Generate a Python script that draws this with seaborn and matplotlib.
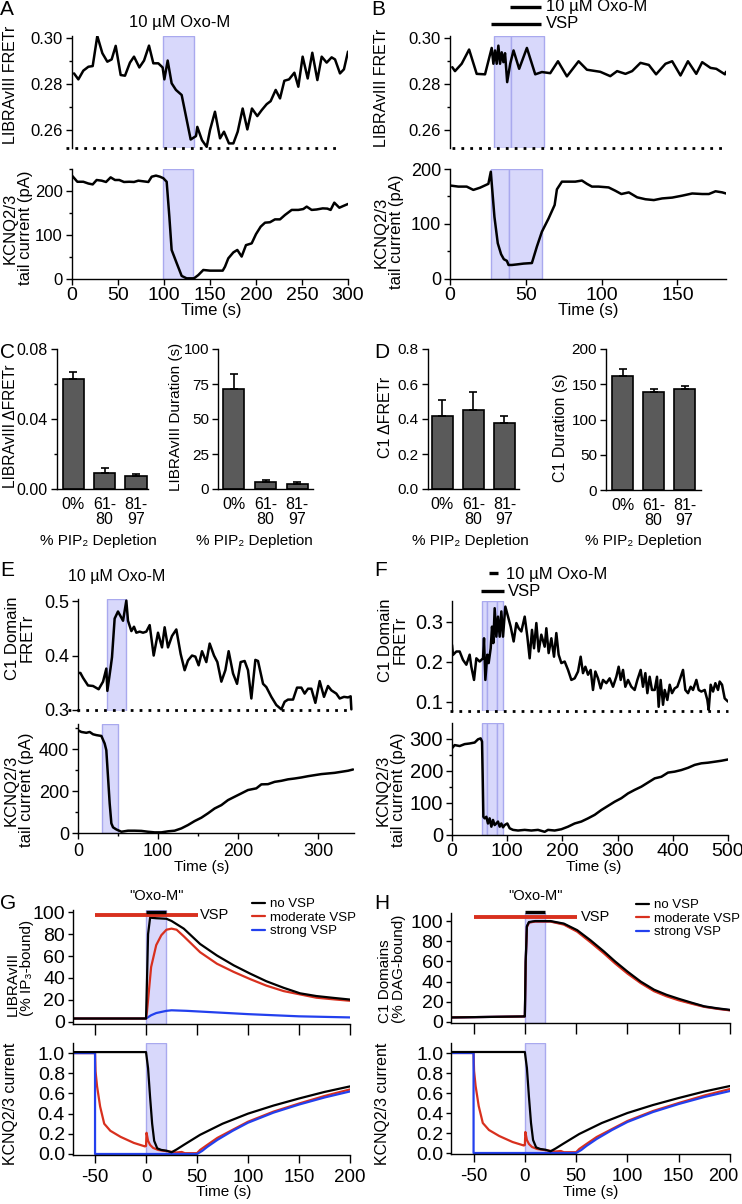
import numpy as np
import pandas as pd
import matplotlib
matplotlib.use("Agg")
import matplotlib.pyplot as plt
import matplotlib.transforms as mtransforms
from matplotlib.ticker import FixedLocator, FormatStrFormatter
import seaborn as sns

sns.set_theme(style="ticks")
plt.rcParams["font.family"] = ["Liberation Sans", "DejaVu Sans"]
plt.rcParams["axes.unicode_minus"] = False
plt.rcParams["axes.linewidth"] = 1.0
plt.rcParams["axes.edgecolor"] = "black"
plt.rcParams["text.color"] = "black"
plt.rcParams["axes.labelcolor"] = "black"
plt.rcParams["xtick.color"] = "black"
plt.rcParams["ytick.color"] = "black"

# === A: LIBRAvIII FRET + KCNQ current, Oxo-M ===
a_fret_t = [2.2, 6.9, 12.3, 17.8, 22.5, 27.5, 33.0, 38.4, 43.1, 47.5, 52.9, 57.6, 63.0, 67.4, 73.2, 78.3,
            83.7, 88.4, 93.8, 98.5, 100.4, 104.0, 108.3, 113.0, 119.2, 129.0, 134.8, 136.2, 141.3, 146.4,
            150.0, 155.4, 160.9, 165.2, 170.6, 175.4, 180.1, 185.5, 190.6, 195.6, 201.4, 206.2, 211.6,
            215.9, 221.4, 226.1, 230.8, 235.9, 241.7, 246.0, 250.7, 256.2, 261.2, 266.7, 271.4, 276.8,
            282.2, 285.9, 291.3, 295.6, 300.0]
a_fret_v = [0.2847, 0.2821, 0.2859, 0.2876, 0.2879, 0.3010, 0.2935, 0.2898, 0.2908, 0.2967, 0.2840,
            0.2837, 0.2894, 0.2920, 0.2873, 0.2903, 0.2968, 0.2891, 0.2891, 0.2873, 0.2821, 0.2903,
            0.2804, 0.2775, 0.2753, 0.2559, 0.2574, 0.2614, 0.2556, 0.2527, 0.2600, 0.2680, 0.2564,
            0.2593, 0.2542, 0.2542, 0.2593, 0.2694, 0.2603, 0.2694, 0.2661, 0.2687, 0.2713, 0.2726,
            0.2775, 0.2738, 0.2815, 0.2821, 0.2850, 0.2789, 0.2920, 0.2825, 0.2937, 0.2818, 0.2920,
            0.2894, 0.2917, 0.2908, 0.2847, 0.2865, 0.2942]
a_kcnq_t = [0, 5.8, 12.3, 17.8, 22.5, 26.8, 32.2, 37.0, 42.0, 46.7, 51.4, 56.5, 62.3, 67.4, 72.1, 77.5,
            83.0, 86.6, 91.3, 95.6, 99.3, 102.9, 105.8, 108.3, 113.8, 119.2, 124.6, 132.6, 137.3, 142.7,
            150.0, 157.2, 163.8, 166.3, 169.9, 175.4, 179.7, 184.4, 189.1, 195.3, 200.0, 205.1, 209.8,
            215.2, 220.6, 226.1, 231.5, 238.8, 246.0, 251.4, 255.1, 260.5, 265.9, 272.5, 277.5, 281.1,
            285.1, 290.6, 294.9, 300.0]
a_kcnq_v = [235, 221, 221, 217, 215, 225, 223.5, 220.5, 231, 225, 225, 220.5, 221, 220.5, 223.5, 222,
            220.5, 232.5, 235, 232.5, 229, 221, 142, 66, 36, 7, 1.5, 1.5, 9, 20.5, 19, 19, 19, 28, 47,
            60.5, 66, 51, 77, 81, 102, 119, 128, 129, 135.5, 135.5, 145.5, 157, 157, 159, 164.5, 157,
            158, 160.5, 160, 157, 173.5, 162, 166, 170.5]
a_fret_shade = [(99, 133)]
a_kcnq_shade = [(98.5, 132)]

# === B: LIBRAvIII FRET + KCNQ current, VSP then Oxo-M ===
b_fret_t = [1.5, 3.3, 7.7, 12.6, 17.6, 23.1, 27.5, 28.6, 29.7, 30.8, 31.9, 33.0, 34.1, 35.2, 36.3, 37.7,
            39.7, 41.9, 45.6, 50.7, 56.2, 60.6, 66.1, 71.2, 77.1, 84.8, 90.3, 99.1, 105.7, 110.2, 115.7,
            120.1, 125.6, 131.1, 135.9, 142.1, 146.5, 152.0, 156.9, 162.4, 166.3, 171.8, 175.6, 181.3, 182.0]
b_fret_v = [0.2874, 0.2857, 0.2889, 0.2951, 0.2845, 0.2843, 0.2958, 0.2889, 0.2947, 0.2889, 0.2968,
            0.2889, 0.2939, 0.2896, 0.2935, 0.2809, 0.2889, 0.2947, 0.2867, 0.2958, 0.2843, 0.2853,
            0.2848, 0.2900, 0.2834, 0.2900, 0.2863, 0.2854, 0.2835, 0.2857, 0.2845, 0.2857, 0.2893,
            0.2884, 0.2843, 0.2889, 0.2900, 0.2838, 0.2900, 0.2845, 0.2896, 0.2871, 0.2867, 0.2843, 0.2854]
b_kcnq_t = [0, 5.5, 11.0, 15.4, 19.8, 25.3, 26.9, 29.3, 31.5, 33.7, 35.5, 37.5, 38.6, 40.8, 44.1, 48.5,
            54.0, 57.3, 60.6, 65.0, 69.0, 70.5, 73.8, 78.2, 82.6, 87.0, 90.3, 93.6, 98.0, 104.6, 109.0,
            113.0, 117.9, 123.4, 128.9, 134.4, 139.9, 146.5, 153.1, 159.7, 166.3, 170.7, 175.1, 179.5, 182.0]
b_kcnq_v = [170, 168, 168, 162, 166, 173, 195, 113, 65, 45, 36, 33, 25.5, 25.5, 26.5, 28, 29, 59, 86,
            110, 134.5, 163, 177, 177, 177, 179, 173, 168, 168, 166.5, 160.5, 154.5, 157.5, 148.5, 145,
            143.5, 146.5, 148, 151.5, 155.5, 154.5, 154.5, 159.5, 157.5, 155.5]
b_fret_shade = [(29.3, 40.3), (40.3, 62.3)]
b_kcnq_shade = [(27.1, 38.6), (38.6, 60.6)]
b_oxo_bar = [39.7, 60.2]
b_vsp_bar = [27.0, 60.0]

# === C / D: summary bars ===
depletion_groups = ["0%", "61-\n80", "81-\n97"]
c_dfret = [0.0627, 0.0093, 0.0076]
c_dfret_err = [0.0043, 0.0025, 0.0011]
c_duration = [71.5, 4.75, 3.8]
c_duration_err = [10.5, 1.65, 1.2]
d_dfret = [0.418, 0.454, 0.378]
d_dfret_err = [0.089, 0.103, 0.040]
d_duration = [161.8, 138.7, 143.4]
d_duration_err = [10.2, 5.2, 3.8]

# === E: C1 domain FRET + KCNQ current, Oxo-M ===
e_fret_t = [0, 3, 6.3, 12.5, 18.8, 25.8, 31.3, 35.4, 36.7, 40.8, 42.5, 45.8, 50.0, 56.3, 60.4, 62.5,
            66.7, 70.0, 72.9, 77.1, 81.3, 85.4, 89.6, 94.6, 100.0, 105.0, 108.3, 112.5, 117.5, 122.9,
            128.3, 133.3, 137.5, 142.5, 146.7, 150.8, 155.0, 160.4, 164.6, 170.0, 174.2, 179.2, 184.2,
            188.3, 193.8, 198.8, 203.3, 208.3, 212.5, 216.7, 221.7, 225.0, 231.3, 235.4, 241.7, 247.9,
            254.2, 258.3, 262.5, 268.8, 273.8, 279.2, 283.3, 287.5, 291.7, 296.7, 302.1, 307.5, 312.5,
            316.7, 322.9, 327.1, 332.5, 337.5, 340.8, 341.7]
e_fret_v = [0.368, 0.368, 0.359, 0.345, 0.344, 0.338, 0.352, 0.376, 0.335, 0.378, 0.397, 0.468, 0.481,
            0.464, 0.501, 0.464, 0.445, 0.453, 0.442, 0.444, 0.442, 0.444, 0.456, 0.400, 0.442, 0.415,
            0.452, 0.415, 0.436, 0.448, 0.403, 0.373, 0.391, 0.400, 0.398, 0.382, 0.408, 0.388, 0.422,
            0.400, 0.388, 0.352, 0.373, 0.408, 0.367, 0.348, 0.388, 0.390, 0.373, 0.321, 0.392, 0.390,
            0.348, 0.342, 0.324, 0.309, 0.301, 0.315, 0.319, 0.319, 0.341, 0.341, 0.330, 0.339, 0.339,
            0.313, 0.353, 0.324, 0.344, 0.336, 0.330, 0.321, 0.324, 0.323, 0.325, 0.301]
e_kcnq_t = [0, 4.2, 10.4, 14.6, 18.8, 22.9, 29.2, 33.3, 35.4, 37.5, 39.6, 41.7, 43.8, 47.9, 54.2, 62.5,
            70.8, 79.2, 87.5, 95.8, 104.2, 112.5, 120.8, 129.2, 137.5, 145.8, 154.2, 162.5, 170.8, 179.2,
            187.5, 195.8, 204.2, 212.5, 222.9, 229.2, 237.5, 245.8, 254.2, 262.5, 270.8, 279.2, 287.5,
            295.8, 304.2, 312.5, 320.8, 329.2, 337.5, 343.8]
e_kcnq_v = [490, 482, 478, 482, 471, 467, 463, 427, 395, 268, 141, 46, 27, 17, 6, 11, 11, 10, 6, 3,
            3, 8, 11, 22, 38, 57, 73, 94, 117, 133, 157, 173, 189, 205, 213, 232, 233, 244, 249, 256,
            260, 265, 271, 276, 281, 284, 287, 292, 297, 303]
e_fret_shade = [(36.3, 60.5)]
e_kcnq_shade = [(30, 50)]

# === F: C1 domain FRET + KCNQ current, VSP then Oxo-M ===
f_fret_t = [0, 1.8, 7.9, 13.9, 19.9, 26.0, 32.0, 35.0, 39.9, 44.1, 50.1, 56.2, 58.0, 60.4, 64.0, 66.4,
            70.1, 72.5, 74.9, 77.3, 80.3, 83.3, 86.4, 89.4, 92.4, 96.6, 101.5, 106.3, 111.7, 116.6, 120.8,
            125.6, 131.7, 136.5, 140.7, 144.9, 148.6, 152.8, 157.0, 161.8, 167.9, 170.9, 175.1, 180.0,
            184.8, 189.0, 193.2, 198.1, 204.1, 210.2, 216.2, 222.2, 228.3, 233.1, 237.3, 241.6, 246.4,
            251.2, 255.4, 259.7, 264.5, 269.3, 273.6, 279.6, 285.6, 291.7, 297.7, 301.9, 305.6, 309.8,
            314.0, 318.9, 324.9, 330.9, 335.8, 341.8, 346.0, 350.3, 353.9, 358.1, 362.3, 367.2, 371.4,
            374.4, 378.0, 382.3, 385.3, 390.1, 394.4, 398.6, 403.4, 408.2, 412.5, 418.5, 422.7, 427.6,
            432.4, 436.6, 442.7, 446.9, 451.7, 457.8, 462.6, 465.0, 468.6, 472.9, 477.1, 481.9, 484.9,
            489.2, 494.0, 500.0]
f_fret_v = [0.2425, 0.2175, 0.226, 0.226, 0.205, 0.193, 0.218, 0.188, 0.155, 0.209,
            0.201, 0.209, 0.259, 0.155, 0.218, 0.197, 0.234, 0.288, 0.247, 0.334,
            0.263, 0.313, 0.263, 0.326, 0.263, 0.338, 0.313, 0.288, 0.251, 0.297,
            0.284, 0.276, 0.313, 0.263, 0.209, 0.280, 0.234, 0.297, 0.226, 0.268,
            0.238, 0.284, 0.222, 0.259, 0.213, 0.272, 0.218, 0.197, 0.201, 0.180,
            0.155, 0.159, 0.176, 0.213, 0.172, 0.188, 0.168, 0.180, 0.130, 0.176,
            0.159, 0.134, 0.155, 0.147, 0.159, 0.138, 0.163, 0.188, 0.155, 0.180,
            0.138, 0.155, 0.138, 0.130, 0.155, 0.180, 0.138, 0.172, 0.122, 0.163,
            0.130, 0.130, 0.163, 0.088, 0.155, 0.093, 0.130, 0.105, 0.143, 0.122,
            0.134, 0.138, 0.155, 0.180, 0.130, 0.122, 0.138, 0.130, 0.155, 0.130,
            0.126, 0.130, 0.105, 0.080, 0.143, 0.126, 0.147, 0.130, 0.151, 0.143,
            0.109, 0.101]
f_kcnq_t = [0, 4.8, 13.9, 22.9, 32.0, 41.1, 47.1, 51.9, 54.4, 55.6, 56.8, 59.2, 62.2, 65.2, 68.2, 71.3,
            74.3, 77.3, 80.3, 83.3, 86.4, 89.4, 92.4, 95.4, 100.2, 104.5, 110.5, 119.6, 131.7, 143.7,
            155.8, 167.9, 173.9, 186.0, 198.1, 210.2, 222.2, 234.3, 246.4, 258.5, 270.5, 282.6, 294.7,
            306.8, 318.9, 330.9, 343.0, 355.1, 367.2, 379.3, 391.3, 403.4, 415.5, 427.6, 439.6, 451.7,
            463.8, 475.9, 487.9, 500.0]
f_kcnq_v = [271, 281, 278, 284, 286, 289, 299, 302, 292, 182, 57, 52, 57, 36, 52, 26, 47, 31, 36, 42,
            26, 36, 24, 31, 36, 21, 16, 14, 16, 14, 16, 10, 16, 14, 18, 26, 36, 42, 52, 63, 78, 91, 104,
            115, 130, 141, 151, 164, 177, 182, 195, 198, 203, 210, 219, 224, 226, 229, 232, 236]
f_shade = [(54.3, 64), (64, 82), (82, 92.4)]
f_oxo_bar = [67, 83]
f_vsp_bar = [52.5, 94]

# === G / H: model ===
model_names = ["no VSP", "moderate VSP", "strong VSP"]
model_colors = {"no VSP": "black", "moderate VSP": "#d8301e", "strong VSP": "#2340ee"}
model_shade = [(0, 20)]
model_oxo_bar = [0, 20]
model_vsp_bar = [-50, 51]

ip3_none_t = [-72, 0, 1, 2, 4, 10, 20, 25, 37, 53, 69.5, 86, 102, 118, 135, 151, 167, 184, 200]
ip3_none = [3, 3, 40, 80, 95, 94.5, 94, 92, 85, 71, 60.5, 51.5, 44, 37, 31, 26, 23.5, 21.8, 20.3]
ip3_mod_t = [-72, 0, 1, 2, 5, 10, 15, 20, 25, 30, 37, 53, 69.5, 86, 102, 118, 135, 151, 167, 184, 200]
ip3_mod = [3, 3, 10, 20, 50, 70, 79, 84, 85, 84, 78, 63.5, 53, 45.5, 39, 33, 28, 25, 22, 20.5, 19.2]
ip3_strong_t = [-72, 0, 5, 10, 20, 25, 40, 60, 100, 150, 200]
ip3_strong = [3, 3, 6, 8, 10, 10.5, 10, 9, 7, 5, 4]

dag_t = [-72, -1, 0, 0.8, 2, 4, 10, 25, 38, 51, 64, 77, 88, 100, 113, 126, 138, 150, 163, 175, 188, 200]
dag_none = [4.5, 5.5, 5.5, 60, 95, 99, 100, 100, 97.5, 91, 81, 70, 60, 50, 40, 32, 27, 23, 19, 15.5, 13.5, 12]
dag_mod = [4.5, 5.5, 5.5, 58, 94, 98.5, 99.5, 99.5, 96.5, 89.5, 79, 68, 58, 48, 38.5, 30.5, 25.5, 21.5,
           18, 15, 13, 11.5]
dag_strong = [4.5, 5.5, 5.5, 59, 94.5, 98.7, 99.7, 99.7, 97, 90.2, 80, 69, 59, 49, 39.2, 31.2, 26.2,
              22.2, 18.5, 15.2, 13.2, 11.7]

kcnq_none_t = [-72, 0, 2, 4, 6, 8, 11, 15, 20, 25, 30, 37, 53, 75, 100, 125, 150, 175, 200]
kcnq_none = [1.01, 1.01, 0.85, 0.56, 0.3, 0.13, 0.056, 0.04, 0.033, 0.017, 0.045, 0.09, 0.19, 0.30,
             0.40, 0.48, 0.55, 0.615, 0.67]
kcnq_mod_t = [-72, -50, -49.5, -48, -45, -41, -35, -25, -12, -1, 0, 0.5, 2, 4, 7, 12, 20, 30, 35, 38,
              50, 53, 60, 70, 85, 100, 125, 150, 175, 200]
kcnq_mod = [1.0, 1.0, 0.82, 0.67, 0.47, 0.30, 0.23, 0.17, 0.11, 0.075, 0.08, 0.21, 0.13, 0.09, 0.06,
            0.04, 0.028, 0.015, 0.02, 0.008, 0.008, 0.04, 0.09, 0.16, 0.24, 0.32, 0.42, 0.50, 0.575, 0.64]
kcnq_strong_t = [-72, -50, -50, 50, 55, 60, 70, 85, 100, 125, 150, 175, 200]
kcnq_strong = [1.0, 1.0, 0.0, 0.0, 0.03, 0.07, 0.14, 0.23, 0.31, 0.41, 0.49, 0.56, 0.62]


# ---------------------------------------------------------------
W, H = 742, 1204
fig = plt.figure(figsize=(W / 100, H / 100), dpi=100)
fig.patch.set_facecolor("white")


def fx(x):
    return x / W


def fy(y):
    return 1 - y / H


def panel(x0, y0, x1, y1):
    ax = fig.add_axes([fx(x0), fy(y1), (x1 - x0) / W, (y1 - y0) / H])
    ax.set_facecolor("white")
    sns.despine(ax=ax)
    return ax


def shade(ax, spans):
    for a, b in spans:
        ax.axvspan(a, b, facecolor="#d8d8fb", edgecolor="#a9a9ee", linewidth=1.0, zorder=0)


def trace(ax, t, v):
    sns.lineplot(x=t, y=v, ax=ax, color="black", linewidth=1.8, estimator=None, sort=False)


def baseline(ax, x, y):
    ax.plot(x, [y, y], color="black", linewidth=2.0, linestyle=(0, (1, 2.2)),
            dash_capstyle="butt", clip_on=False)


def yaxis(ax, ticks, size, label, at, lsize=11.5, fmt=None, minor=None, malign="center"):
    ax.yaxis.set_major_locator(FixedLocator(ticks))
    if fmt:
        ax.yaxis.set_major_formatter(FormatStrFormatter(fmt))
    if minor:
        ax.yaxis.set_minor_locator(FixedLocator(minor))
    ax.tick_params(axis="y", which="major", length=4.5, width=1, pad=2, labelsize=size)
    ax.tick_params(axis="y", which="minor", length=2.5, width=1)
    ax.set_ylabel(label, fontsize=lsize, linespacing=1.0, multialignment=malign)
    ax.yaxis.set_label_coords(fx(at[0]), fy(at[1]), transform=fig.transFigure)


def xaxis(ax, ticks, size, label=None, at=None, lsize=12, minor=None, length=4, pad=2, labels=True):
    ax.xaxis.set_major_locator(FixedLocator(ticks))
    if minor:
        ax.xaxis.set_minor_locator(FixedLocator(minor))
    ax.tick_params(axis="x", which="major", length=length, width=1, pad=pad, labelsize=size,
                   labelbottom=labels)
    ax.tick_params(axis="x", which="minor", length=length * 0.6, width=1)
    ax.set_xlabel(label if label else "", fontsize=lsize)
    if at:
        ax.xaxis.set_label_coords(fx(at[0]), fy(at[1]), transform=fig.transFigure)


def no_xaxis(ax):
    ax.spines["bottom"].set_visible(False)
    ax.tick_params(axis="x", bottom=False, labelbottom=False)
    ax.set_xlabel("")


def bars(ax, vals, errs):
    sns.barplot(x=depletion_groups, y=vals, ax=ax, color="#5a5a5a", saturation=1,
                edgecolor="black", linewidth=1.2, width=0.67, errorbar=None)
    ax.errorbar(np.arange(len(vals)), vals, yerr=[np.zeros(len(vals)), errs], fmt="none",
                ecolor="black", elinewidth=1.2, capsize=3, capthick=1.2, zorder=4)
    ax.tick_params(axis="x", length=0, pad=6, labelsize=11.5)
    for lab in ax.get_xticklabels():
        lab.set_linespacing(1.0)


def model(ax, series, zorders=(2.2, 2.1, 2.0)):
    df = pd.concat([pd.DataFrame({"t": t, "v": v, "model": name}) for name, (t, v) in series.items()])
    sns.lineplot(data=df, x="t", y="v", hue="model", hue_order=model_names, palette=model_colors,
                 estimator=None, sort=False, linewidth=1.6, legend=False, ax=ax)
    for line, z in zip(ax.lines[:3], zorders):
        line.set_zorder(z)


def label(x, y, s, **kw):
    fig.text(fx(x), fy(y), s, **kw)


# ---------------- A ----------------
axA1 = panel(72, 36, 348, 148)
shade(axA1, a_fret_shade)
trace(axA1, a_fret_t, a_fret_v)
baseline(axA1, [-7, 291], 0.2522)
axA1.set_xlim(0, 300)
axA1.set_ylim(0.2522, 0.301)
no_xaxis(axA1)
yaxis(axA1, [0.26, 0.28, 0.30], 12, "LIBRAvIII FRETr", (18.5, 85), fmt="%.2f", minor=[0.27, 0.29])

axA2 = panel(72, 169, 348, 279)
shade(axA2, a_kcnq_shade)
trace(axA2, a_kcnq_t, a_kcnq_v)
axA2.set_xlim(0, 300)
axA2.set_ylim(0, 250)
yaxis(axA2, [0, 100, 200], 12, "KCNQ2/3\ntail current (pA)", (33, 228), lsize=12, minor=[50, 150, 250])
xaxis(axA2, [0, 50, 100, 150, 200, 250, 300], 14, "Time (s)", (211, 303))

label(180, 23, "10 µM Oxo-M", ha="center", va="center", fontsize=12)

# ---------------- B ----------------
axB1 = panel(450, 36, 726, 148)
shade(axB1, b_fret_shade)
trace(axB1, b_fret_t, b_fret_v)
baseline(axB1, [1, 182], 0.2522)
axB1.set_xlim(0, 182)
axB1.set_ylim(0.2522, 0.301)
no_xaxis(axB1)
yaxis(axB1, [0.26, 0.28, 0.30], 12, "LIBRAvIII FRETr", (389.5, 88), fmt="%.2f", minor=[0.27, 0.29])

blendB = mtransforms.blended_transform_factory(axB1.transData, fig.transFigure)
axB1.plot(b_oxo_bar, [fy(7)] * 2, color="black", lw=2.4, transform=blendB, clip_on=False,
          solid_capstyle="butt")
axB1.plot(b_vsp_bar, [fy(24)] * 2, color="black", lw=2.4, transform=blendB, clip_on=False,
          solid_capstyle="butt")
axB1.text(63, fy(7), "10 µM Oxo-M", transform=blendB, ha="left", va="center", fontsize=12)
axB1.text(63, fy(24), "VSP", transform=blendB, ha="left", va="center", fontsize=12)

axB2 = panel(450, 169, 726, 279)
shade(axB2, b_kcnq_shade)
trace(axB2, b_kcnq_t, b_kcnq_v)
axB2.set_xlim(0, 182)
axB2.set_ylim(0, 200)
yaxis(axB2, [0, 100, 200], 13, "KCNQ2/3\ntail current (pA)", (404, 232), lsize=12, minor=[50, 150])
xaxis(axB2, [0, 50, 100, 150], 14, "Time (s)", (588, 303))

# ---------------- C ----------------
axC1 = panel(57, 349, 148, 489)
bars(axC1, c_dfret, c_dfret_err)
axC1.set_xlim(-0.51, 2.38)
axC1.set_ylim(0, 0.08)
yaxis(axC1, [0, 0.04, 0.08], 11.5, "LIBRAvIII ΔFRETr", (18.5, 426), lsize=11.2, fmt="%.2f",
      minor=[0.02, 0.06])
axC1.set_xlabel("% PIP₂ Depletion", fontsize=11)
axC1.xaxis.set_label_coords(fx(98), fy(534), transform=fig.transFigure)

axC2 = panel(218, 349, 313, 489)
bars(axC2, c_duration, c_duration_err)
axC2.set_xlim(-0.5, 2.5)
axC2.set_ylim(0, 100)
yaxis(axC2, [0, 25, 50, 75, 100], 11, "LIBRAvIII Duration (s)", (183, 417), lsize=11)
axC2.set_xlabel("% PIP₂ Depletion", fontsize=11)
axC2.xaxis.set_label_coords(fx(254), fy(534), transform=fig.transFigure)

# ---------------- D ----------------
axD1 = panel(428, 349, 519, 489)
bars(axD1, d_dfret, d_dfret_err)
axD1.set_xlim(-0.46, 2.47)
axD1.set_ylim(0, 0.8)
yaxis(axD1, [0, 0.2, 0.4, 0.6, 0.8], 11, "C1 ΔFRETr", (392.5, 417), lsize=11.5, fmt="%.1f")
axD1.set_xlabel("% PIP₂ Depletion", fontsize=11)
axD1.xaxis.set_label_coords(fx(470), fy(534), transform=fig.transFigure)

axD2 = panel(606, 349, 701, 490)
bars(axD2, d_duration, d_duration_err)
axD2.set_xlim(-0.54, 2.53)
axD2.set_ylim(0, 200)
yaxis(axD2, [0, 50, 100, 150, 200], 11, "C1 Duration (s)", (568, 428), lsize=11.5)
axD2.set_xlabel("% PIP₂ Depletion", fontsize=11)
axD2.xaxis.set_label_coords(fx(643), fy(534), transform=fig.transFigure)

# ---------------- E ----------------
axE1 = panel(78, 599, 354, 711)
shade(axE1, e_fret_shade)
trace(axE1, e_fret_t, e_fret_v)
baseline(axE1, [-13, 343], 0.3)
axE1.set_xlim(0, 345)
axE1.set_ylim(0.298, 0.504)
no_xaxis(axE1)
yaxis(axE1, [0.3, 0.4, 0.5], 13, "C1 Domain\nFRETr", (35, 638), lsize=12, fmt="%.1f")
label(117, 576, "10 µM Oxo-M", ha="center", va="center", fontsize=11.5)

axE2 = panel(78, 724, 354, 833)
shade(axE2, e_kcnq_shade)
trace(axE2, e_kcnq_t, e_kcnq_v)
axE2.set_xlim(0, 345)
axE2.set_ylim(0, 520)
yaxis(axE2, [0, 200, 400], 13, "KCNQ2/3\ntail current (pA)", (34, 790), lsize=12, minor=[100, 300, 500])
xaxis(axE2, [0, 100, 200, 300], 13, "Time (s)", (202, 860), lsize=11, minor=[50, 150, 250], pad=3)

# ---------------- F ----------------
axF1 = panel(452, 601, 728, 711)
shade(axF1, f_shade)
trace(axF1, f_fret_t, f_fret_v)
baseline(axF1, [-4, 500], 0.0775)
axF1.set_xlim(0, 500)
axF1.set_ylim(0.0775, 0.352)
no_xaxis(axF1)
yaxis(axF1, [0.1, 0.2, 0.3], 14.5, "C1 Domain\nFRETr", (408, 640), lsize=12, fmt="%.1f")

blendF = mtransforms.blended_transform_factory(axF1.transData, fig.transFigure)
axF1.plot(f_oxo_bar, [fy(573)] * 2, color="black", lw=2.4, transform=blendF, clip_on=False,
          solid_capstyle="butt")
axF1.plot(f_vsp_bar, [fy(591)] * 2, color="black", lw=2.4, transform=blendF, clip_on=False,
          solid_capstyle="butt")
axF1.text(97.5, fy(574), "10 µM Oxo-M", transform=blendF, ha="left", va="center", fontsize=12)
axF1.text(101, fy(591), "VSP", transform=blendF, ha="left", va="center", fontsize=12)

axF2 = panel(452, 723, 728, 835)
shade(axF2, f_shade)
trace(axF2, f_kcnq_t, f_kcnq_v)
axF2.set_xlim(0, 500)
axF2.set_ylim(0, 350)
yaxis(axF2, [0, 100, 200, 300], 14.5, "KCNQ2/3\ntail current (pA)", (406, 790), lsize=12,
      minor=[50, 150, 250])
xaxis(axF2, [0, 100, 200, 300, 400, 500], 14, "Time (s)", (594, 860), lsize=11)


# ---------------- G / H ----------------
def model_top(ax, series, ylim, vsp_y, oxo_y, ylab, ylab_at, leg_at, vsp_x):
    shade(ax, model_shade)
    model(ax, series)
    ax.plot(model_vsp_bar, [vsp_y] * 2, color=model_colors["moderate VSP"], lw=2.8, clip_on=False,
            solid_capstyle="butt", zorder=3)
    ax.plot(model_oxo_bar, [oxo_y] * 2, color="black", lw=2.4, clip_on=False, solid_capstyle="butt",
            zorder=3.1)
    ax.text(vsp_x, vsp_y, "VSP", ha="left", va="center", fontsize=10.5)
    blend = mtransforms.blended_transform_factory(ax.transData, fig.transFigure)
    ax.text(10, fy(896), '"Oxo-M"', transform=blend, ha="center", va="center", fontsize=10.5)
    ax.set_xlim(-72, 200)
    ax.set_ylim(*ylim)
    yaxis(ax, [0, 20, 40, 60, 80, 100], 14, ylab, ylab_at, lsize=11, malign="left")
    ax.tick_params(axis="y", length=3.5)
    xaxis(ax, [-50, 0, 50, 100, 150, 200], 13, labels=False, length=8)
    ax.legend(ax.lines[:3], model_names, loc="upper left", bbox_to_anchor=(fx(leg_at[0]), fy(leg_at[1])),
              bbox_transform=fig.transFigure, frameon=False, fontsize=9.5, handlelength=1.0,
              handletextpad=0.4, labelspacing=0.1, borderpad=0, borderaxespad=0)


def model_bottom(ax, xlab_at, ylab_at):
    shade(ax, model_shade)
    model(ax, {"no VSP": (kcnq_none_t, kcnq_none), "moderate VSP": (kcnq_mod_t, kcnq_mod),
               "strong VSP": (kcnq_strong_t, kcnq_strong)}, zorders=(2.2, 2.0, 2.1))
    ax.set_xlim(-72, 200)
    ax.set_ylim(-0.01, 1.1)
    yaxis(ax, [0, 0.2, 0.4, 0.6, 0.8, 1.0], 14, "KCNQ2/3 current", ylab_at, lsize=11.5, fmt="%.1f")
    ax.tick_params(axis="y", length=3.5)
    xaxis(ax, [-50, 0, 50, 100, 150, 200], 13.5, "Time (s)", xlab_at, lsize=11, length=6, pad=4)


axG1 = panel(72.6, 910, 350, 1024)
model_top(axG1, {"no VSP": (ip3_none_t, ip3_none), "moderate VSP": (ip3_mod_t, ip3_mod),
                 "strong VSP": (ip3_strong_t, ip3_strong)},
          (-2, 102), 97.5, 100, "LIBRAvIII\n(% IP₃-bound)", (34, 968), (252, 898), 53)
axG2 = panel(72.6, 1043, 350, 1155)
model_bottom(axG2, (224, 1185), (18, 1104))

axH1 = panel(451, 913, 730, 1023)
model_top(axH1, {"no VSP": (dag_t, dag_none), "moderate VSP": (dag_t, dag_mod),
                 "strong VSP": (dag_t, dag_strong)},
          (-1, 108), 104, 109, "C1 Domains\n(% DAG-bound)", (406, 969), (636, 899), 54.6)
axH2 = panel(451, 1043, 730, 1154)
model_bottom(axH2, (591, 1185), (389.5, 1104))

# keep the last H tick label inside the canvas
last = axH2.get_xticklabels()[-1]
last.set_transform(last.get_transform() + mtransforms.ScaledTranslation(-0.07, 0, fig.dpi_scale_trans))
last.set_fontsize(13)

# ---------------- panel letters ----------------
for s, x, y in [("A", 0, 15), ("B", 371, 15), ("C", 0, 358), ("D", 374, 358), ("E", 0, 576),
                ("F", 374, 576), ("G", 0, 909), ("H", 374, 909)]:
    label(x, y, s, ha="left", va="baseline", fontsize=15)

fig.savefig("out.png", dpi=100, facecolor="white")
